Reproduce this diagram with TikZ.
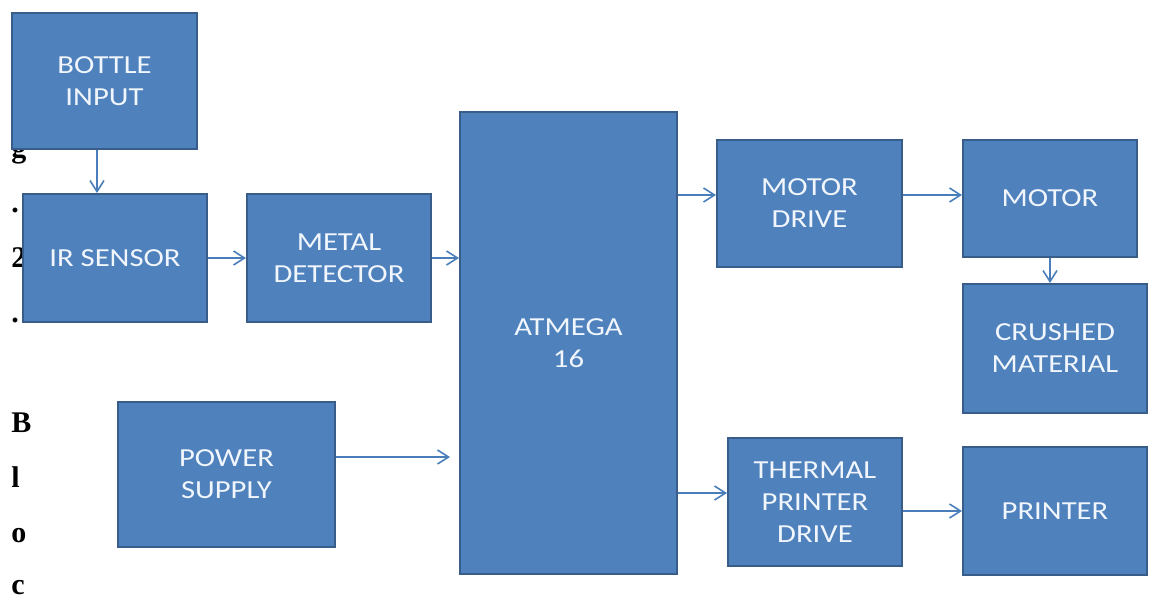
\documentclass[tikz,border=0pt]{standalone}
\usepackage{fontspec}
\usetikzlibrary{arrows.meta}
\newfontfamily\blkfont[FakeStretch=1.18]{Carlito}
\newfontfamily\capfont{Liberation Serif}
\definecolor{blkfill}{RGB}{79,129,189}
\definecolor{blkline}{RGB}{56,93,138}
\definecolor{linkcol}{RGB}{74,126,187}
\definecolor{blktext}{RGB}{240,246,252}
\tikzset{
  blk/.style={draw=blkline, fill=blkfill, line width=1pt, text=blktext, align=center,
    inner sep=0pt, font=\blkfont\fontsize{13}{16}\selectfont},
  link/.style={draw=linkcol, line width=0.8pt, -{Straight Barb[length=5.5pt,width=7pt]}},
  stray/.style={anchor=base west, inner sep=0pt, font=\capfont\bfseries\fontsize{15}{18}\selectfont}
}
\begin{document}
\begin{tikzpicture}[x=0.5pt, y=-0.5pt]
% page frame, pixel units with y downwards
\path[fill=white, use as bounding box] (0,0) rectangle (1157,596);
% stray letters of the page behind the figure
\node[stray] (s1) at (11,157) {g};
\node[stray] (s2) at (11,212) {.};
\node[stray] (s3) at (11,267) {2};
\node[stray] (s4) at (11,322) {.};
\node[stray] (s5) at (11,432) {B};
\node[stray] (s6) at (11,487) {l};
\node[stray] (s7) at (11,542) {o};
\node[stray] (s8) at (11,594) {c};
% blocks
\node[blk, minimum width=92.5pt, minimum height=68pt] (bottle) at (104.5,81) {BOTTLE\\INPUT};
\node[blk, minimum width=92pt, minimum height=64pt] (ir) at (115,258) {IR SENSOR};
\node[blk, minimum width=92pt, minimum height=64pt] (metal) at (339,258) {METAL\\DETECTOR};
\node[blk, minimum width=108.5pt, minimum height=231pt] (atmega) at (568.5,343) {ATMEGA\\16};
\node[blk, minimum width=108.5pt, minimum height=72.5pt] (power) at (226.5,474.5) {POWER\\SUPPLY};
\node[blk, minimum width=92.5pt, minimum height=63.5pt] (motordrive) at (809.5,203.5) {MOTOR\\DRIVE};
\node[blk, minimum width=87pt, minimum height=58.5pt] (motor) at (1050,198.5) {MOTOR};
\node[blk, minimum width=92pt, minimum height=64.5pt] (crushed) at (1055,348.5) {CRUSHED\\MATERIAL};
\node[blk, minimum width=87pt, minimum height=64pt] (thermal) at (815,502) {THERMAL\\PRINTER\\DRIVE};
\node[blk, minimum width=92pt, minimum height=64pt] (printer) at (1055,511) {PRINTER};
% connectors
\draw[link] ([xshift=-3.75pt]bottle.south) -- ([xshift=-3.75pt]bottle.south |- ir.north);
\draw[link] (ir) -- (metal);
\draw[link] (metal.east) -- (metal.east -| atmega.west);
\draw[link, shorten >=4.5pt] ([yshift=8.75pt]power.east) -- ([yshift=8.75pt]power.east -| atmega.west);
\draw[link] ([yshift=4.25pt]motordrive.west -| atmega.east) -- ([yshift=4.25pt]motordrive.west);
\draw[link] ([yshift=1.75pt]motordrive.east |- motor.west) -- ([yshift=1.75pt]motor.west);
\draw[link] (motor.south) -- (motor.south |- crushed.north);
\draw[link] ([yshift=4.5pt]thermal.west -| atmega.east) -- ([yshift=4.5pt]thermal.west);
\draw[link] (thermal.east |- printer.west) -- (printer.west);
\end{tikzpicture}
\end{document}
